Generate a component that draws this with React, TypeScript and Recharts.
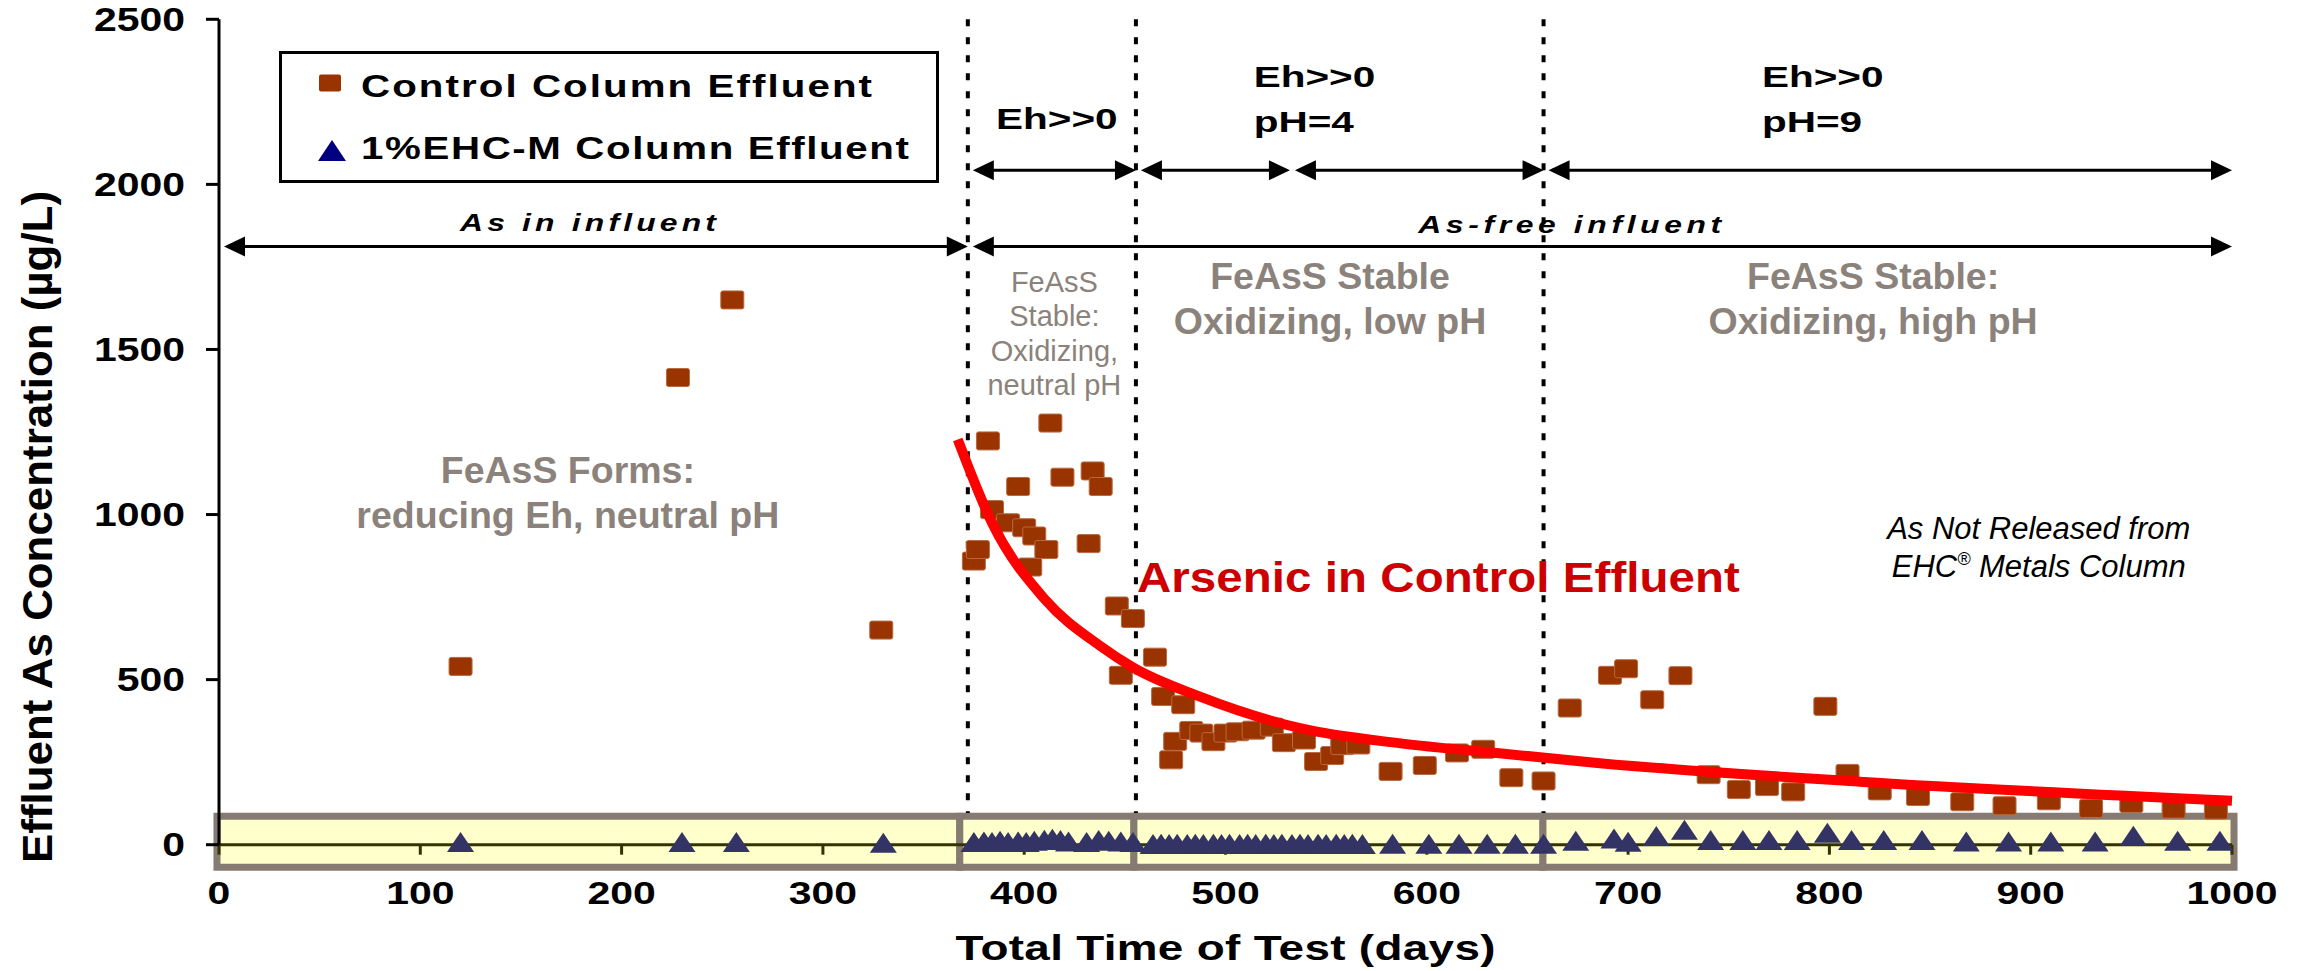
import React from 'react';
import {
  ComposedChart,
  Scatter,
  Line,
  XAxis,
  YAxis,
  ReferenceArea,
  ReferenceLine,
  ReferenceDot,
  Legend,
} from 'recharts';

const FONT = '"Liberation Sans", Arial, Helvetica, sans-serif';

// Axis ticks
const xTicks = [0, 100, 200, 300, 400, 500, 600, 700, 800, 900, 1000];
const yTicks = [0, 500, 1000, 1500, 2000, 2500];

// Series names
const CONTROL_NAME = 'Control Column Effluent';
const EHC_NAME = '1%EHC-M Column Effluent';

// Control column effluent arsenic: [day, µg/L]
const controlEffluent: [number, number][] = [
  [120, 540], [228, 1415], [255, 1650], [329, 650],
  [375, 859], [377, 894], [382, 1223], [384, 1015], [392, 975], [397, 1085],
  [400, 960], [403, 841], [405, 935], [411, 894], [413, 1277], [419, 1113],
  [432, 912], [434, 1132], [438, 1085], [446, 723], [448, 513], [454, 685],
  [465, 568], [469, 449], [473, 257], [475, 313], [479, 424], [483, 346],
  [488, 338], [494, 312], [500, 338], [506, 342], [514, 347], [523, 356],
  [529, 309], [539, 317], [545, 252], [553, 270], [558, 300], [566, 302],
  [582, 222], [599, 240], [615, 278], [628, 289], [642, 203], [658, 193],
  [671, 414], [691, 513], [699, 533], [712, 439], [726, 512], [740, 212],
  [755, 167], [769, 176], [782, 160], [798, 419], [809, 216], [825, 163],
  [844, 146], [866, 130], [887, 118], [909, 133], [930, 110], [950, 125],
  [971, 108], [992, 105],
];

// 1% EHC-M column effluent arsenic: [day, µg/L]
const ehcEffluent: [number, number][] = [
  [120, 8], [230, 8], [257, 8], [330, 6],
  [375, 8], [380, 10], [384, 8], [388, 12], [392, 8], [397, 10], [401, 8],
  [405, 12], [410, 15], [414, 18], [418, 14], [422, 10], [431, 8], [437, 14],
  [442, 12], [448, 10], [454, 8],
  [464, 2], [468, 3], [472, 2], [476, 3], [481, 2], [485, 3], [489, 2],
  [494, 3], [498, 2], [502, 3], [507, 2], [511, 3], [515, 2], [520, 3],
  [524, 2], [528, 3], [533, 2], [537, 3], [541, 2], [546, 3], [550, 2],
  [555, 3], [559, 2], [563, 3], [568, 2],
  [583, 3], [601, 3], [616, 3], [630, 3], [644, 3], [658, 3],
  [674, 12], [693, 19], [700, 9], [714, 26], [728, 45], [741, 14], [757, 14],
  [770, 14], [784, 14], [799, 36], [811, 14], [827, 14], [846, 14], [868, 10],
  [889, 10], [910, 10], [932, 10], [951, 27], [973, 12], [994, 12],
];

// Decline curve fitted to the control effluent: [day, µg/L]
const controlTrend: [number, number][] = [
  [367, 1227], [384, 975], [410, 745], [438, 601], [454, 537], [487, 449],
  [537, 353], [587, 307], [636, 277], [686, 247], [815, 191], [1000, 133],
];

// Phase boundaries (days)
const phaseBoundaries = [372, 455.5, 658];

// Redox / pH condition spans and influent spans (days)
const conditionSpans: [number, number][] = [[372, 455.5], [455.5, 532], [532, 658], [658, 1000]];
const influentSpans: [number, number][] = [[0, 372], [372, 1000]];
const CONDITION_ARROW_LEVEL = 2043;
const INFLUENT_ARROW_LEVEL = 1812;

// Highlighted near-zero bands along the time axis (days)
const baselineBands: [number, number][] = [[-1, 368], [368, 454.5], [454.5, 657.7], [657.7, 1001]];
const BAND_LOW = -68;
const BAND_HIGH = 86;

// Annotation texts anchored in data space
const conditionLabels = [
  { day: 386, level: 2167, lines: ['Eh>>0'] },
  { day: 514, level: 2294, lines: ['Eh>>0', 'pH=4'] },
  { day: 766.5, level: 2294, lines: ['Eh>>0', 'pH=9'] },
];
const influentLabels = [
  { day: 183.3, level: 1858, text: 'As in influent', width: 256 },
  { day: 671, level: 1852, text: 'As-free influent', width: 303 },
];
const mineralLabels = [
  { day: 173.3, level: 1095, lines: ['FeAsS Forms:', 'reducing Eh, neutral pH'] },
  { day: 551.9, level: 1684, lines: ['FeAsS Stable', 'Oxidizing, low pH'] },
  { day: 821.7, level: 1684, lines: ['FeAsS Stable:', 'Oxidizing, high pH'] },
];
const neutralLabel = { day: 415, level: 1675, lines: ['FeAsS', 'Stable:', 'Oxidizing,', 'neutral pH'] };
const trendLabel = { day: 456, level: 766, text: 'Arsenic in Control Effluent' };
const ehcNote = { day: 904, level: 925, first: 'As Not Released from', second: ' Metals Column' };

const toPoints = (rows: [number, number][]) => rows.map(([x, y]) => ({ x, y }));

type STProps = {
  x: number;
  y: number;
  size: number;
  sx?: number;
  anchor?: 'start' | 'middle' | 'end';
  weight?: string | number;
  italic?: boolean;
  fill?: string;
  width?: number;
  children: React.ReactNode;
};

// Text widened horizontally, as the chart's own lettering is
const StretchText = ({ x, y, size, sx = 1, anchor = 'middle', weight = 'bold', italic = false, fill = '#000', width, children }: STProps) => (
  <text
    transform={`translate(${x} ${y}) scale(${sx} 1)`}
    textAnchor={anchor}
    fontFamily={FONT}
    fontSize={size}
    fontWeight={weight}
    fontStyle={italic ? 'italic' : 'normal'}
    fill={fill}
    textLength={width ? width / sx : undefined}
    lengthAdjust={width ? 'spacing' : undefined}
  >
    {children}
  </text>
);

const XTick = (p: any) => (
  <StretchText x={p.x} y={p.y + 49.6} size={32} sx={1.28}>
    {String(p.payload.value)}
  </StretchText>
);

const YTick = (p: any) => (
  <StretchText x={p.x} y={p.y + 11.6} size={32.5} sx={1.26} anchor="end">
    {String(p.payload.value)}
  </StretchText>
);

const XTitle = (p: any) => {
  const vb = p.viewBox || { x: 219, y: 844.7, width: 2013, height: 126.3 };
  return (
    <StretchText x={vb.x + vb.width / 2} y={vb.y + 115.6} size={35} sx={1.31} width={540}>
      Total Time of Test (days)
    </StretchText>
  );
};

// Rotated concentration title, thickened across its baseline
const YTitle = () => (
  <text
    transform="translate(52 527) rotate(-90) scale(1 1.3)"
    textAnchor="middle"
    fontFamily={FONT}
    fontSize={33}
    fontWeight="bold"
    fill="#000"
    textLength={672}
    lengthAdjust="spacingAndGlyphs"
  >
    Effluent As Concentration (µg/L)
  </text>
);

const SquareMark = (p: any) => (
  <rect x={p.cx - 11.5} y={p.cy - 9} width={23} height={18} rx={2} fill="#993300" stroke="#b86a40" strokeWidth={1} />
);

const TriangleMark = (p: any) => (
  <polygon
    points={`${p.cx},${p.cy - 10} ${p.cx + 13.5},${p.cy + 10} ${p.cx - 13.5},${p.cy + 10}`}
    fill="#333366"
  />
);

const DoubleArrow = (p: any) => {
  const { x1, y1, x2, y2 } = p;
  const len = 21;
  const half = 10;
  const left = x1 + 5;
  return (
    <g>
      <line x1={left + 4} y1={y1} x2={x2 - 4} y2={y2} stroke="#000" strokeWidth={3} />
      <polygon points={`${left},${y1} ${left + len},${y1 - half} ${left + len},${y1 + half}`} fill="#000" />
      <polygon points={`${x2},${y2} ${x2 - len},${y2 - half} ${x2 - len},${y2 + half}`} fill="#000" />
    </g>
  );
};

const LegendBox = () => (
  <svg width={660} height={132} style={{ display: 'block' }}>
    <rect x={1.5} y={1.5} width={657} height={129} fill="#ffffff" stroke="#000" strokeWidth={3} />
    <rect x={40} y={23.5} width={22} height={17} rx={2} fill="#993300" />
    <polygon points="53,89 67,110 39,110" fill="#000080" />
    <StretchText x={82} y={46} size={31} sx={1.3} anchor="start" width={511}>
      {CONTROL_NAME}
    </StretchText>
    <StretchText x={82} y={108} size={31} sx={1.3} anchor="start" width={548}>
      {EHC_NAME}
    </StretchText>
  </svg>
);

const GRAY = '#8b827c';

export default function App() {
  return (
    <div style={{ position: 'absolute', left: 0, top: 0, width: 2308, height: 971, background: '#ffffff', overflow: 'hidden' }}>
      <ComposedChart width={2308} height={971} margin={{ top: 19.3, right: 76, bottom: 0, left: 0 }}>
        <XAxis
          xAxisId={0}
          type="number"
          dataKey="x"
          domain={[0, 1000]}
          ticks={xTicks}
          interval={0}
          height={126.3}
          tickSize={10}
          tickMargin={0}
          tick={XTick}
          tickLine={{ stroke: '#333300', strokeWidth: 3 }}
          axisLine={{ stroke: '#333300', strokeWidth: 3 }}
          label={{ content: XTitle }}
        />
        <XAxis
          xAxisId="top"
          orientation="top"
          type="number"
          domain={[0, 1000]}
          height={0}
          tick={false}
          tickLine={false}
          axisLine={{ stroke: '#000', strokeWidth: 3 }}
        />
        <YAxis
          yAxisId={0}
          type="number"
          dataKey="y"
          domain={[0, 2500]}
          ticks={yTicks}
          interval={0}
          width={219}
          tickSize={13}
          tickMargin={21}
          tick={YTick}
          tickLine={{ stroke: '#000', strokeWidth: 3 }}
          axisLine={{ stroke: '#000', strokeWidth: 3 }}
          label={{ content: YTitle }}
        />
        <YAxis
          yAxisId="right"
          orientation="right"
          type="number"
          domain={[0, 2500]}
          width={0}
          tick={false}
          tickLine={false}
          axisLine={{ stroke: '#000', strokeWidth: 3 }}
        />

        {baselineBands.map(([a, b]) => (
          <ReferenceArea
            key={`band-${a}`}
            x1={a}
            x2={b}
            y1={BAND_LOW}
            y2={BAND_HIGH}
            ifOverflow="visible"
            fill="#ffffcc"
            fillOpacity={1}
            stroke="#857b73"
            strokeWidth={7}
          />
        ))}

        {phaseBoundaries.map((d) => (
          <ReferenceLine
            key={`phase-${d}`}
            segment={[{ x: d, y: 2500 }, { x: d, y: 96 }]}
            stroke="#000"
            strokeWidth={4}
            strokeDasharray="7 11"
            ifOverflow="visible"
          />
        ))}

        {conditionSpans.map(([a, b]) => (
          <ReferenceLine
            key={`cond-${a}`}
            segment={[{ x: a, y: CONDITION_ARROW_LEVEL }, { x: b, y: CONDITION_ARROW_LEVEL }]}
            ifOverflow="visible"
            shape={DoubleArrow}
          />
        ))}
        {influentSpans.map(([a, b]) => (
          <ReferenceLine
            key={`inf-${a}`}
            segment={[{ x: a, y: INFLUENT_ARROW_LEVEL }, { x: b, y: INFLUENT_ARROW_LEVEL }]}
            ifOverflow="visible"
            shape={DoubleArrow}
          />
        ))}

        {conditionLabels.map((l, i) => (
          <ReferenceDot
            key={`cl-${i}`}
            x={l.day}
            y={l.level}
            r={0}
            ifOverflow="visible"
            shape={(p: any) => (
              <g>
                {l.lines.map((t, j) => (
                  <StretchText key={j} x={p.cx} y={p.cy + j * 44.4} size={30} sx={1.35} anchor="start">
                    {t}
                  </StretchText>
                ))}
              </g>
            )}
          />
        ))}

        {influentLabels.map((l, i) => (
          <ReferenceDot
            key={`il-${i}`}
            x={l.day}
            y={l.level}
            r={0}
            ifOverflow="visible"
            shape={(p: any) => (
              <StretchText x={p.cx} y={p.cy} size={24.5} sx={1.3} italic width={l.width}>
                {l.text}
              </StretchText>
            )}
          />
        ))}

        {mineralLabels.map((l, i) => (
          <ReferenceDot
            key={`ml-${i}`}
            x={l.day}
            y={l.level}
            r={0}
            ifOverflow="visible"
            shape={(p: any) => (
              <g>
                {l.lines.map((t, j) => (
                  <StretchText key={j} x={p.cx} y={p.cy + j * 45} size={37.5} fill={GRAY}>
                    {t}
                  </StretchText>
                ))}
              </g>
            )}
          />
        ))}

        <ReferenceDot
          x={neutralLabel.day}
          y={neutralLabel.level}
          r={0}
          ifOverflow="visible"
          shape={(p: any) => (
            <g>
              {neutralLabel.lines.map((t, j) => (
                <StretchText key={j} x={p.cx} y={p.cy + j * 34.5} size={29} weight="normal" fill={GRAY}>
                  {t}
                </StretchText>
              ))}
            </g>
          )}
        />

        <ReferenceDot
          x={ehcNote.day}
          y={ehcNote.level}
          r={0}
          ifOverflow="visible"
          shape={(p: any) => (
            <g fontFamily={FONT} fontStyle="italic" fontSize={31} fill="#000" textAnchor="middle">
              <text x={p.cx} y={p.cy}>{ehcNote.first}</text>
              <text x={p.cx} y={p.cy + 37.4}>
                EHC
                <tspan fontSize={18} dy={-12}>®</tspan>
                <tspan dy={12}>{ehcNote.second}</tspan>
              </text>
            </g>
          )}
        />

        <Scatter
          name={CONTROL_NAME}
          data={toPoints(controlEffluent)}
          dataKey="y"
          fill="#993300"
          shape={SquareMark}
          isAnimationActive={false}
        />
        <Scatter
          name={EHC_NAME}
          data={toPoints(ehcEffluent)}
          dataKey="y"
          fill="#000080"
          shape={TriangleMark}
          isAnimationActive={false}
        />
        <Line
          data={toPoints(controlTrend)}
          dataKey="y"
          type="monotone"
          stroke="#ff0000"
          strokeWidth={10}
          dot={false}
          activeDot={false}
          legendType="none"
          isAnimationActive={false}
          zIndex={650}
        />

        <ReferenceDot
          x={trendLabel.day}
          y={trendLabel.level}
          r={0}
          ifOverflow="visible"
          shape={(p: any) => (
            <StretchText x={p.cx} y={p.cy} size={42} fill="#cc0000" anchor="start" sx={1.13} width={603}>
              {trendLabel.text}
            </StretchText>
          )}
        />

        <Legend
          layout="horizontal"
          verticalAlign="middle"
          align="center"
          wrapperStyle={{ left: 279, top: 51, width: 660, height: 132 }}
          content={() => <LegendBox />}
        />
      </ComposedChart>
    </div>
  );
}
